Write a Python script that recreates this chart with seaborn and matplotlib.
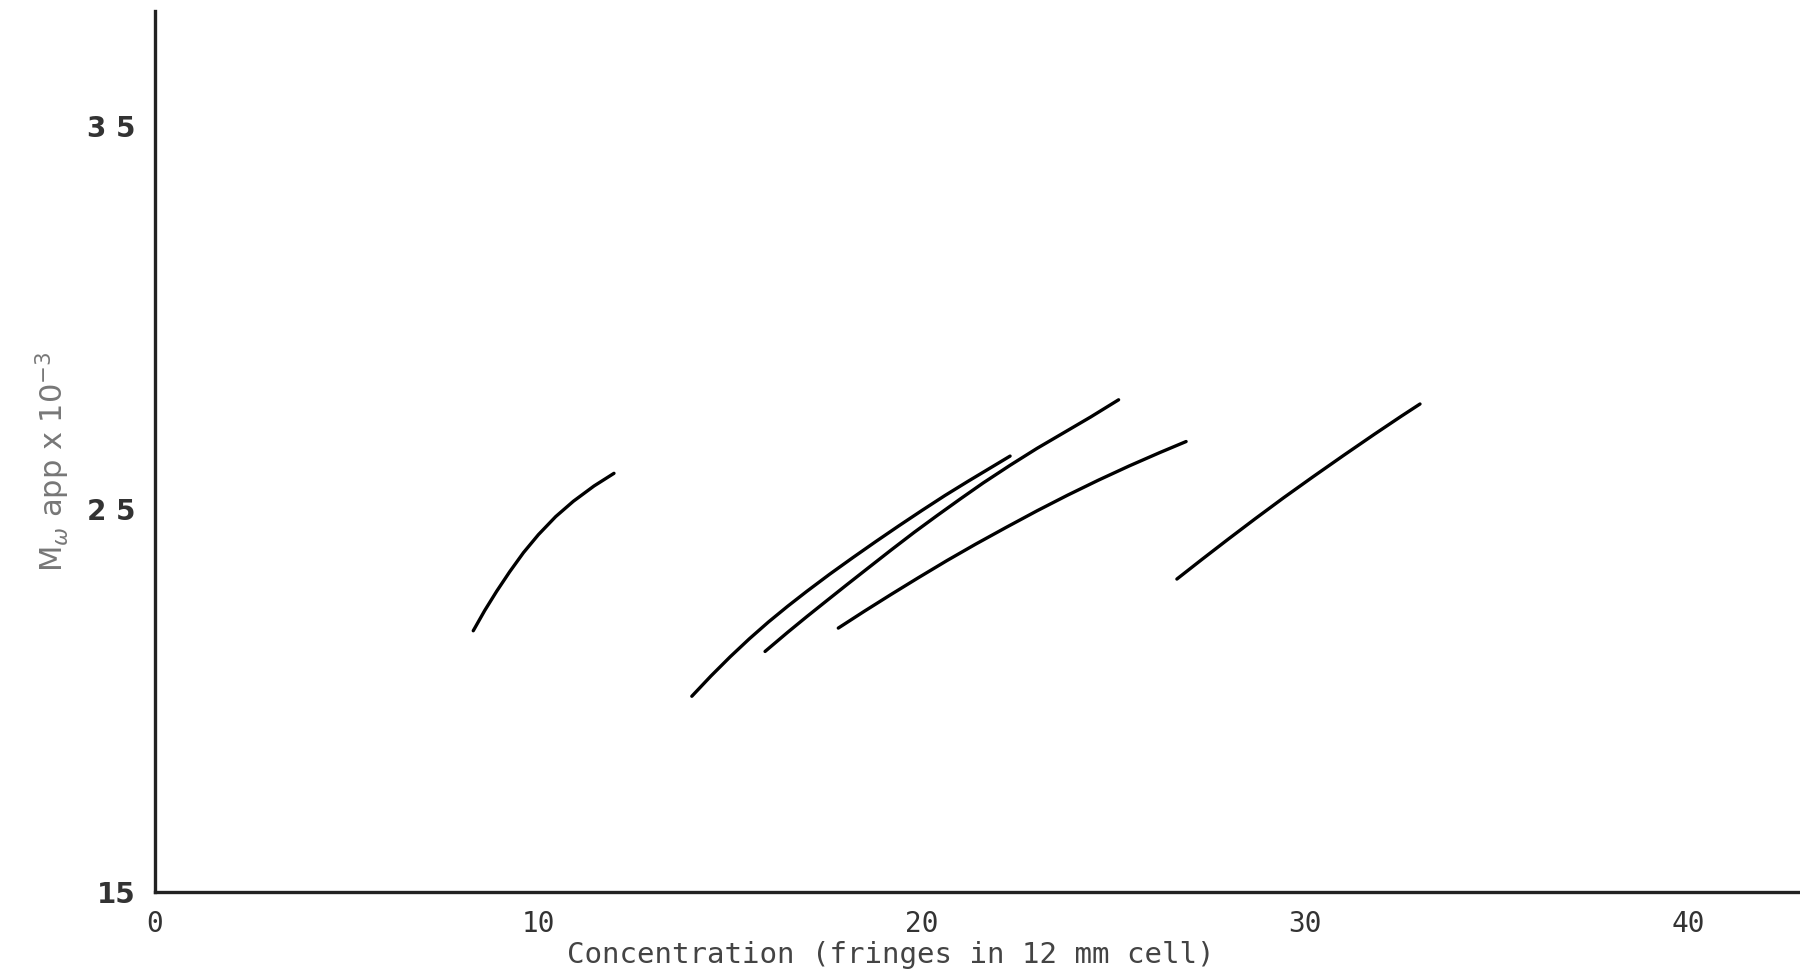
import matplotlib
matplotlib.use("Agg")
import matplotlib.pyplot as plt
import seaborn as sns
import pandas as pd

# Apparent weight-average molecular weight vs. concentration, five runs
c1_x = [8.30, 8.60, 8.91, 9.25, 9.61, 10.00, 10.45, 10.91, 11.45, 11.97]
c1_y = [21.82, 22.35, 22.85, 23.36, 23.86, 24.33, 24.80, 25.20, 25.60, 25.93]

c2_x = [14.0, 14.5, 15.0, 15.5, 16.0, 16.5, 17.0, 17.6, 18.2, 18.8, 19.4,
        20.0, 20.6, 21.2, 21.8, 22.3]
c2_y = [20.11, 20.64, 21.14, 21.61, 22.05, 22.46, 22.85, 23.30, 23.73, 24.15,
        24.56, 24.96, 25.35, 25.72, 26.08, 26.38]

c3_x = [15.91, 16.5, 17.0, 17.5, 18.04, 18.6, 19.2, 19.8, 20.4, 21.0, 21.6,
        22.3, 23.0, 23.7, 24.4, 25.13]
c3_y = [21.28, 21.78, 22.19, 22.59, 23.02, 23.46, 23.93, 24.39, 24.83, 25.26,
        25.68, 26.14, 26.58, 26.99, 27.40, 27.85]

c4_x = [17.82, 18.5, 19.2, 19.9, 20.65, 21.4, 22.2, 23.0, 23.8, 24.6, 25.4,
        26.2, 26.89]
c4_y = [21.89, 22.33, 22.77, 23.20, 23.65, 24.08, 24.52, 24.95, 25.36, 25.75,
        26.12, 26.47, 26.76]

c5_x = [26.65, 27.3, 28.0, 28.7, 29.43, 30.2, 31.0, 31.8, 32.5, 32.99]
c5_y = [23.17, 23.68, 24.22, 24.75, 25.29, 25.84, 26.40, 26.95, 27.42, 27.74]

x_ticks = [0, 10, 20, 30, 40]
x_tick_labels = ["0", "10", "20", "30", "40"]
y_ticks = [15, 25, 35]
y_tick_labels = ["15", "2 5", "3 5"]

frames = []
for name, xs, ys in [("a", c1_x, c1_y), ("b", c2_x, c2_y), ("c", c3_x, c3_y),
                     ("d", c4_x, c4_y), ("e", c5_x, c5_y)]:
    frames.append(pd.DataFrame({"conc": xs, "mw": ys, "run": name}))
df = pd.concat(frames, ignore_index=True)

sns.set_style("white")
fig = plt.figure(figsize=(18, 9.74), dpi=100)
ax = fig.add_axes([0.0861, 0.0842, 0.9139, 0.9045])

sns.lineplot(data=df, x="conc", y="mw", units="run", estimator=None,
             sort=False, color="black", linewidth=2.4, ax=ax)

ax.set_xlim(0, 42.9)
ax.set_ylim(15, 38.0)

for side in ("top", "right"):
    ax.spines[side].set_visible(False)
for side in ("left", "bottom"):
    ax.spines[side].set_linewidth(2.4)
    ax.spines[side].set_color("#222222")

ax.set_xticks(x_ticks)
ax.set_xticklabels(x_tick_labels, family="DejaVu Sans Mono", fontsize=20,
                   color="#333333")
ax.set_yticks(y_ticks)
ax.set_yticklabels(y_tick_labels, family="DejaVu Sans", fontsize=20,
                   fontweight="bold", color="#333333")
ax.tick_params(axis="x", direction="in", length=7, width=1.5, pad=13,
               color="#222222")
ax.tick_params(axis="y", direction="in", length=8, width=1.5, pad=14,
               color="#222222")

ax.set_xlabel("Concentration (fringes in 12 mm cell)",
              family="DejaVu Sans Mono", fontsize=21, color="#444444",
              va="center")
ax.xaxis.set_label_coords(0.447, -0.072)
ax.set_ylabel(r"M$_\omega$ app x 10$^{-3}$", family="DejaVu Sans",
              fontsize=22, color="#777777", va="center")
ax.yaxis.set_label_coords(-0.062, 0.488)

leg = ax.get_legend()
if leg is not None:
    leg.remove()

fig.savefig("out.png", dpi=100, facecolor="white")
